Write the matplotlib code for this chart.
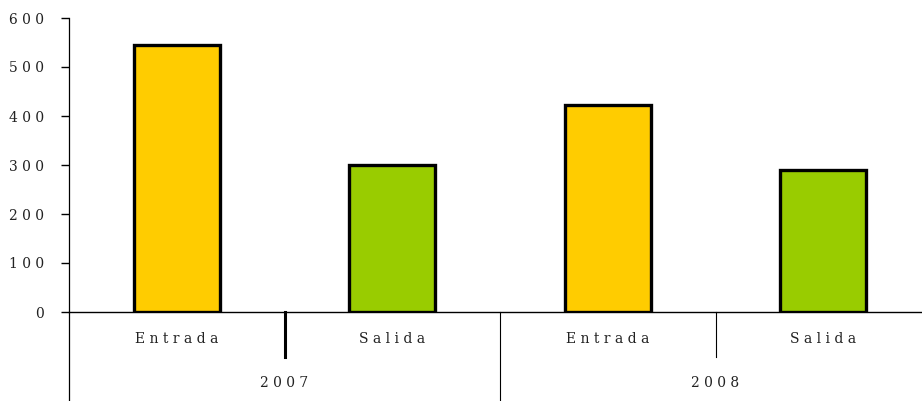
import matplotlib
matplotlib.use("Agg")
import matplotlib.pyplot as plt
from matplotlib.transforms import blended_transform_factory

years = ["2007", "2008"]
flows = ["Entrada", "Salida"]
values = [545, 300, 422, 290]
colors = ["#FFCC00", "#99CC00", "#FFCC00", "#99CC00"]
yticks = [0, 100, 200, 300, 400, 500, 600]

def spaced(s):
    return " ".join(s)

FONT = "DejaVu Serif"
fig = plt.figure(figsize=(9.22, 4.01), dpi=100)
ax = fig.add_axes([69/922, 89/401, 862/922, 294/401])

n = len(values)
xs = list(range(n))
ax.bar(xs, values, width=0.4, color=colors, edgecolor="black", linewidth=2.4, zorder=3)
ax.set_xlim(-0.5, n - 0.5)
ax.set_ylim(0, 600)

for s in ["top", "right", "bottom"]:
    ax.spines[s].set_visible(False)
ax.spines["left"].set_linewidth(0.9)
ax.axhline(0, color="black", lw=1.0, zorder=4, clip_on=False)

ax.set_yticks(yticks)
ax.set_yticklabels([spaced(str(v)) for v in yticks], family=FONT, fontsize=10, color="#222222")
ax.tick_params(axis="y", length=6, width=1, pad=12)
ax.set_xticks([])

tr = blended_transform_factory(ax.transData, ax.transAxes)
hpx = 294.0
lab_y = -27 / hpx
year_y = -71 / hpx
sep_short = -45 / hpx
sep_long = -89 / hpx

for i in range(n):
    ax.text(xs[i], lab_y, spaced(flows[i % 2]), transform=tr, ha="center", va="center",
            family=FONT, fontsize=10, color="#222222")
for j, y in enumerate(years):
    ax.text(2 * j + 0.5, year_y, spaced(y), transform=tr, ha="center", va="center",
            family=FONT, fontsize=10, color="#222222")

# separators
ax.plot([-0.5, -0.5], [sep_long, 0], transform=tr, color="black", lw=0.9, clip_on=False)
ax.plot([0.5, 0.5], [sep_short, 0], transform=tr, color="black", lw=2.2, clip_on=False)
ax.plot([1.5, 1.5], [sep_long, 0], transform=tr, color="black", lw=0.8, clip_on=False)
ax.plot([2.5, 2.5], [sep_short, 0], transform=tr, color="black", lw=0.8, clip_on=False)

fig.savefig("out.png", dpi=100)
